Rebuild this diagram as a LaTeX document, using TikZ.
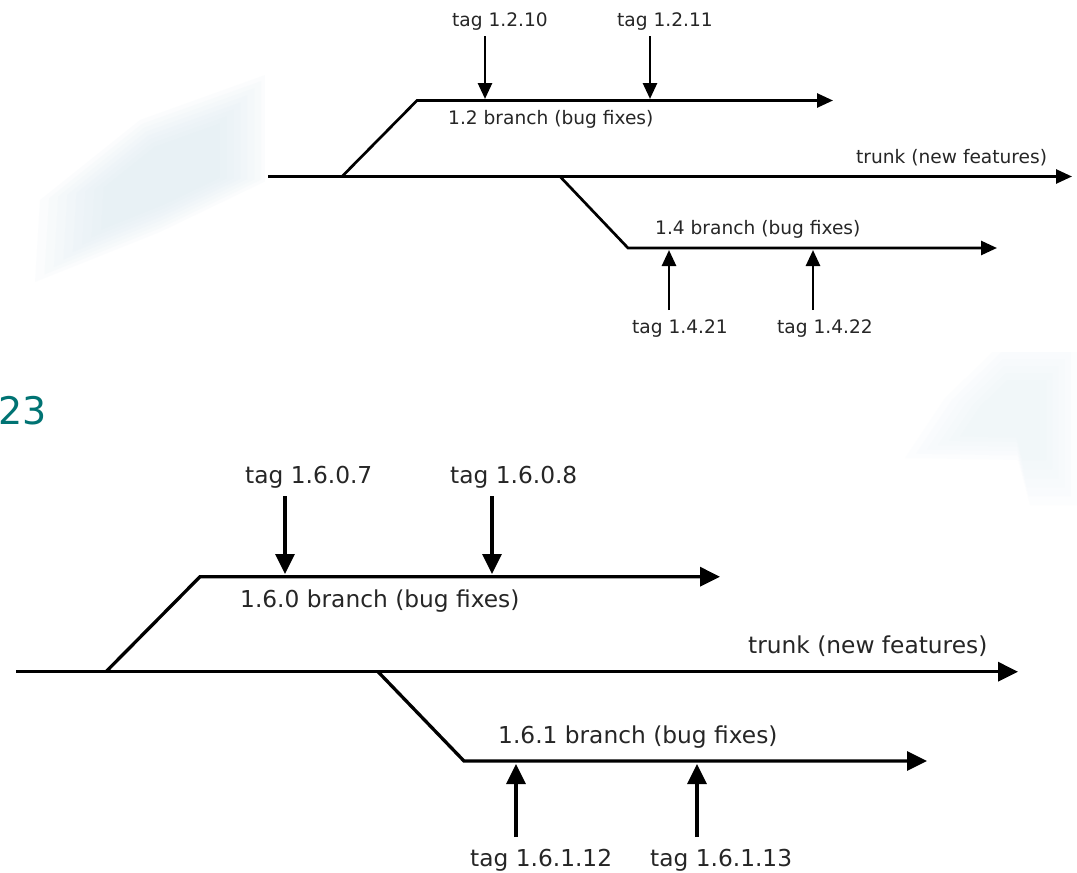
\documentclass[tikz,border=0pt]{standalone}
\usepackage{fontspec}
\setmainfont{DejaVu Sans}
\usetikzlibrary{arrows.meta}
\definecolor{swoosh}{RGB}{220,236,243}
\definecolor{swooshB}{RGB}{228,240,245}
\definecolor{tealnum}{RGB}{0,115,115}
\definecolor{txt}{RGB}{38,38,38}
\begin{document}
\begin{tikzpicture}[x=1pt,y=-1pt,
  lblS/.style={font=\fontsize{18.6}{20}\selectfont, text=txt, inner sep=0pt, anchor=base west},
  lblB/.style={font=\fontsize{23.3}{25}\selectfont, text=txt, inner sep=0pt, anchor=base west},
  lineS/.style={line width=2.7pt, line join=miter, line cap=butt},
  arrS/.style={lineS, -{Triangle[length=16pt,width=14pt]}},
  lineB/.style={line width=3.3pt, line join=miter, line cap=butt},
  arrB/.style={lineB, -{Triangle[length=20pt,width=19pt]}}]
\useasboundingbox (0,0) rectangle (1077,873);
\fill[white] (0,0) rectangle (1077,873);
% background swooshes (soft, layered)
\foreach \s in {1.0,0.93,0.86,0.79,0.72,0.65,0.58,0.51}{
  \fill[swoosh, opacity=0.11, scale around={\s:(170,175)}]
    (35,282) -- (40,200) -- (140,120) -- (268,74) -- (268,180) -- (160,232) -- cycle;
}
\foreach \s in {1.0,0.9,0.8,0.7,0.6,0.5}{
  \fill[swooshB, opacity=0.09, scale around={\s:(1015,415)}]
    (905,458) -- (945,398) -- (1000,345) -- (1077,345) -- (1077,505) -- (1030,505) -- (1018,460) -- cycle;
}
\fill[white] (265,0) rectangle (1077,352);
% page number
\node[font=\fontsize{38}{40}\selectfont, text=tealnum, inner sep=0pt, anchor=base east] (pnum) at (47,424) {23};

% ---------- top diagram ----------
\coordinate (tA) at (268,176.5);
\coordinate (tB) at (342,176.5);
\coordinate (tC) at (560,176.5);
\coordinate (tEnd) at (1072,176.5);
\coordinate (b12a) at (417,100.5);
\coordinate (b12End) at (833,100.5);
\coordinate (b14a) at (628,248);
\coordinate (b14End) at (997,248);
\coordinate (g10s) at (485,36);  \coordinate (g10e) at (485,99);
\coordinate (g11s) at (650,36);  \coordinate (g11e) at (650,99);
\coordinate (g21s) at (669,310); \coordinate (g21e) at (669,250);
\coordinate (g22s) at (813,310); \coordinate (g22e) at (813,250);

\draw[arrS] (tA) -- (tEnd);
\draw[arrS] (tB) -- (b12a) -- (b12End);
\draw[arrS] (tC) -- (b14a) -- (b14End);
\draw[arrS] (g10s) -- (g10e);
\draw[arrS] (g11s) -- (g11e);
\draw[arrS] (g21s) -- (g21e);
\draw[arrS] (g22s) -- (g22e);

\node[lblS] (l1210) at (452,26) {tag 1.2.10};
\node[lblS] (l1211) at (617,26) {tag 1.2.11};
\node[lblS] (l12b) at (448,124.5) {1.2 branch (bug fixes)};
\node[lblS] (ltrunk1) at (856,163) {trunk (new features)};
\node[lblS] (l14b) at (655,234) {1.4 branch (bug fixes)};
\node[lblS] (l1421) at (632,333) {tag 1.4.21};
\node[lblS] (l1422) at (777,333) {tag 1.4.22};

% ---------- bottom diagram ----------
\coordinate (TA) at (16,671.7);
\coordinate (TB) at (106,671.7);
\coordinate (TC) at (378,671.7);
\coordinate (TEnd) at (1018,671.7);
\coordinate (b160a) at (200,576.7);
\coordinate (b160End) at (720,576.7);
\coordinate (b161a) at (464,761);
\coordinate (b161End) at (927,761);
\coordinate (h07s) at (285,496);  \coordinate (h07e) at (285,574);
\coordinate (h08s) at (492,496);  \coordinate (h08e) at (492,574);
\coordinate (h12s) at (516,837);  \coordinate (h12e) at (516,764);
\coordinate (h13s) at (697,837);  \coordinate (h13e) at (697,764);

\draw[arrB] (TA) -- (TEnd);
\draw[arrB] (TB) -- (b160a) -- (b160End);
\draw[arrB] (TC) -- (b161a) -- (b161End);
\draw[arrB] (h07s) -- (h07e);
\draw[arrB] (h08s) -- (h08e);
\draw[arrB] (h12s) -- (h12e);
\draw[arrB] (h13s) -- (h13e);

\node[lblB] (l1607) at (245,483) {tag 1.6.0.7};
\node[lblB] (l1608) at (450,483) {tag 1.6.0.8};
\node[lblB] (l160b) at (240,607) {1.6.0 branch (bug fixes)};
\node[lblB] (ltrunk2) at (748,653) {trunk (new features)};
\node[lblB] (l161b) at (498,743) {1.6.1 branch (bug fixes)};
\node[lblB] (l16112) at (470,866) {tag 1.6.1.12};
\node[lblB] (l16113) at (650,866) {tag 1.6.1.13};
\end{tikzpicture}
\end{document}
